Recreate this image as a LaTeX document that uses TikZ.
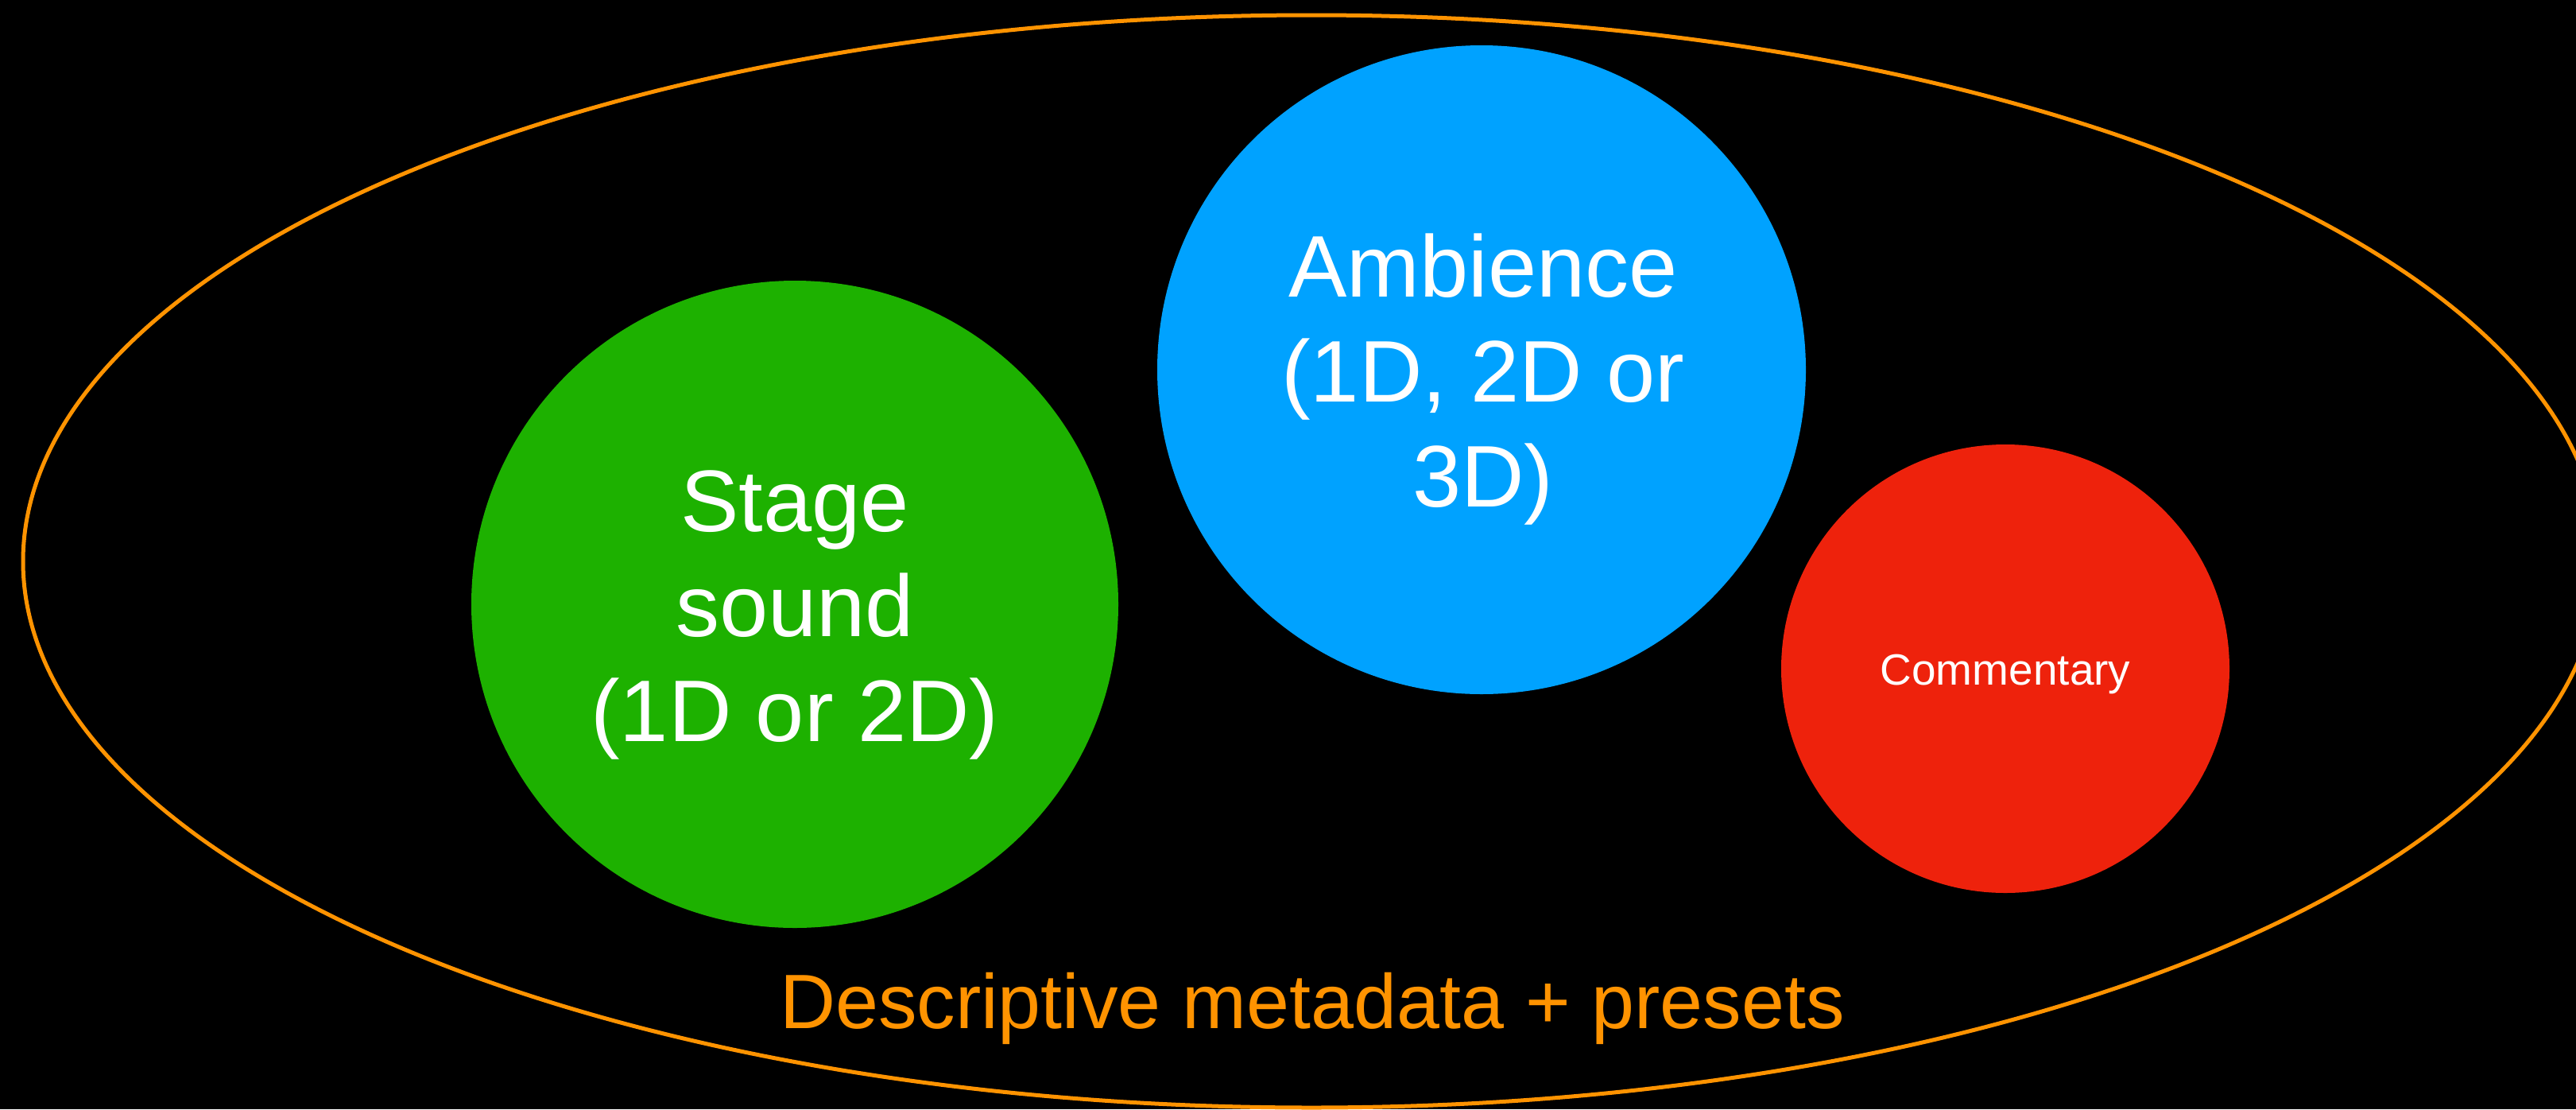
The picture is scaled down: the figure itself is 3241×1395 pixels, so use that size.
\documentclass[tikz,border=0pt]{standalone}
\usepackage{fontspec}
\setmainfont{Liberation Sans}
\usetikzlibrary{shapes.geometric}

\definecolor{metaorange}{RGB}{255,147,0}
\definecolor{stagegreen}{RGB}{29,177,0}
\definecolor{ambblue}{RGB}{0,162,255}
\definecolor{commred}{RGB}{238,34,12}

\tikzset{
  bubble/.style={circle, inner sep=0pt, outer sep=0pt, draw=none},
  bigtext/.style={text=white, align=center, inner sep=0pt,
    font=\fontsize{110}{132}\selectfont},
  smalltext/.style={text=white, inner sep=0pt,
    font=\fontsize{55}{66}\selectfont},
  metatext/.style={text=metaorange, inner sep=0pt,
    font=\fontsize{97}{116}\selectfont},
}

\begin{document}
\begin{tikzpicture}[x=1pt, y=-1pt]
  % canvas
  \fill[black] (0,0) rectangle (3241,1395);
  \useasboundingbox (0,0) rectangle (3241,1395);
  \clip (0,0) rectangle (3241,1395);

  % enclosing metadata ellipse
  \node[ellipse, draw=metaorange, line width=5pt, inner sep=0pt,
        minimum width=3242pt, minimum height=1374pt] (meta) at (1650,706) {};

  % sound-object bubbles
  \node[bubble, fill=stagegreen, minimum size=814pt] (stage) at (1000,760) {};
  \node[bubble, fill=ambblue, minimum size=816pt] (amb) at (1864,465) {};
  \node[bubble, fill=commred, minimum size=564pt] (comm) at (2523,841) {};

  % bubble captions
  \node[bigtext] (stagetxt) at (1000,773.5) {Stage\\sound\\(1D or 2D)};
  \node[bigtext] (ambtxt) at (1866,477.5) {Ambience\\(1D, 2D or\\3D)};
  \node[smalltext] (commtxt) at (2523,847.5) {Commentary};

  % ellipse caption
  \node[metatext] (metatxt) at (1651,1268.5) {Descriptive metadata + presets};
\end{tikzpicture}
\end{document}
